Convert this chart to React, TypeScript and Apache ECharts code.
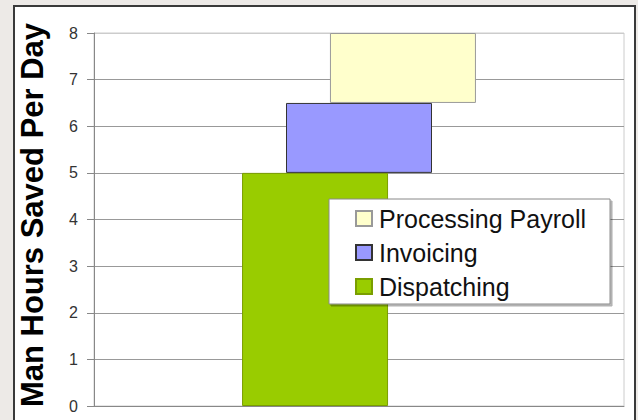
import React, { useEffect, useRef } from "react";
import * as echarts from "echarts";

const categories = [""];
const seriesNames = ["Dispatching", "Invoicing", "Processing Payroll"];
const dispatching = [5];
const invoicing = [1.5];
const payroll = [1.5];
const yTicks = [0, 1, 2, 3, 4, 5, 6, 7, 8];
const yTitle = "Man Hours Saved Per Day";

export default function App() {
  const ref = useRef<HTMLDivElement>(null);
  useEffect(() => {
    document.body.style.margin = "0";
    document.body.style.background = "#edeae7";
    if (!ref.current) return;
    const chart = echarts.init(ref.current, null, { renderer: "svg" });
    const invoicingBase = dispatching.map((v) => v);
    const payrollBase = dispatching.map((v, i) => v + invoicing[i]);
    const font = "'Liberation Sans', Arial, sans-serif";
    const hidden = {
      color: "transparent",
      borderWidth: 0,
    };
    chart.setOption({
      animation: false,
      backgroundColor: "#edeae7",
      graphic: [
        {
          type: "rect",
          z: -10,
          silent: true,
          shape: { x: 14, y: 6, width: 621, height: 440 },
          style: { fill: "#ffffff", stroke: "#3a3a3a", lineWidth: 2 },
        },
      ],
      grid: { left: 94, top: 33, right: 14, bottom: 14, show: true, borderColor: "#cccccc", borderWidth: 1 },
      legend: {
        orient: "vertical",
        left: 329,
        top: 199,
        data: [seriesNames[2], seriesNames[1], seriesNames[0]],
        backgroundColor: "#ffffff",
        borderColor: "#888888",
        borderWidth: 1,
        shadowColor: "rgba(0,0,0,0.3)",
        shadowOffsetX: 2,
        shadowOffsetY: 2,
        shadowBlur: 1,
        padding: [7, 24, 5, 26],
        itemWidth: 16,
        itemHeight: 15,
        itemGap: 9,
        icon: "rect",
        textStyle: { fontFamily: font, fontSize: 25, color: "#111111", lineHeight: 25, padding: [0, 0, 0, 2] },
      },
      xAxis: {
        type: "category",
        data: categories,
        axisLine: { show: true, lineStyle: { color: "#888888", width: 1 } },
        axisTick: { show: false },
        axisLabel: { show: false },
        splitLine: { show: false },
      },
      yAxis: {
        type: "value",
        min: yTicks[0],
        max: yTicks[yTicks.length - 1],
        interval: 1,
        name: yTitle,
        nameLocation: "middle",
        nameRotate: 90,
        nameGap: 46,
        nameTextStyle: { fontFamily: font, fontSize: 31, fontWeight: "bold", color: "#000000", padding: [0, 0, 0, 9] },
        axisLine: { show: true, lineStyle: { color: "#888888", width: 1 } },
        axisTick: { show: true, length: 7, lineStyle: { color: "#888888" } },
        axisLabel: { fontFamily: font, fontSize: 16, color: "#333333", margin: 16 },
        splitLine: {
          show: true,
          lineStyle: {
            color: ["#888888", "#999999", "#999999", "#999999", "#999999", "#999999", "#999999", "#999999", "#cccccc"],
            width: 1,
          },
        },
      },
      series: [
        {
          name: seriesNames[0],
          type: "bar",
          stack: "d",
          barWidth: 146,
          barGap: "-69.9%",
          data: dispatching,
          itemStyle: { color: "#99cc00", borderColor: "#7a9e00", borderWidth: 1 },
        },
        {
          name: "_invBase",
          type: "bar",
          stack: "i",
          barWidth: 146,
          barGap: "-69.9%",
          silent: true,
          data: invoicingBase,
          itemStyle: hidden,
        },
        {
          name: seriesNames[1],
          type: "bar",
          stack: "i",
          barWidth: 146,
          barGap: "-69.9%",
          data: invoicing,
          itemStyle: { color: "#9999ff", borderColor: "#333333", borderWidth: 1 },
        },
        {
          name: "_payBase",
          type: "bar",
          stack: "p",
          barWidth: 146,
          barGap: "-69.9%",
          silent: true,
          data: payrollBase,
          itemStyle: hidden,
        },
        {
          name: seriesNames[2],
          type: "bar",
          stack: "p",
          barWidth: 146,
          barGap: "-69.9%",
          data: payroll,
          itemStyle: { color: "#ffffcc", borderColor: "#999999", borderWidth: 1 },
        },
      ],
    });
    return () => chart.dispose();
  }, []);
  return <div ref={ref} style={{ width: 638, height: 420 }} />;
}
